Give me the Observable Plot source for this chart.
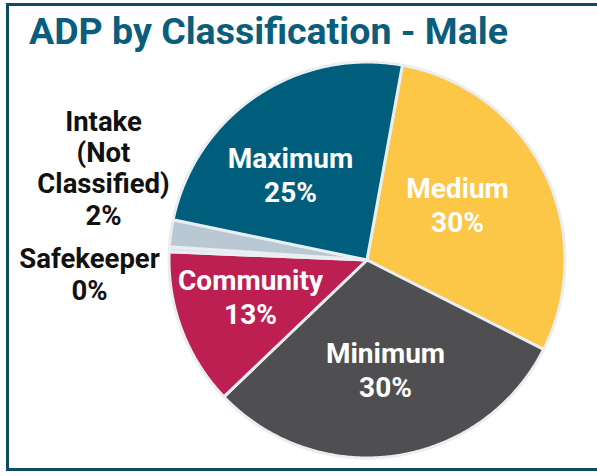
<!DOCTYPE html>
<html><head><meta charset="utf-8">
<script src="https://cdn.jsdelivr.net/npm/d3@7"></script>
<script src="https://cdn.jsdelivr.net/npm/@observablehq/plot@0.6"></script>
<style>
html,body{margin:0;padding:0;background:#fff;}
#wrap{position:relative;width:597px;height:476px;overflow:hidden;font-family:Roboto,"Noto Sans",sans-serif;}
#frame{position:absolute;left:6px;top:3px;width:640px;height:468px;border:3.5px solid #0d4b60;box-sizing:border-box;}
#title{position:absolute;left:29px;top:13.4px;font-weight:700;font-size:37.5px;line-height:1;color:#0a5d7b;white-space:nowrap;}
#chart{position:absolute;left:0;top:0;}
</style></head>
<body>
<div id="wrap">
  <div id="frame"></div>
  <div id="chart"></div>
  <div id="title">ADP by Classification - Male</div>
</div>
<script>
// ---- data (clockwise from the first slice) ----
const categories = ["Medium", "Minimum", "Community", "Safekeeper", "Intake (Not Classified)", "Maximum"];
const labelNames = ["Medium", "Minimum", "Community", "Safekeeper", "Intake\n(Not\nClassified)", "Maximum"];
const shares = [29.6, 30.4, 12.8, 0.4, 2.2, 24.6];
const percentLabels = ["30%", "30%", "13%", "0%", "2%", "25%"];

// ---- styles / layout ----
const sliceColors = ["#fcc647", "#4f4f51", "#bd1f53", "#dde4ea", "#b9c8d3", "#005e7d"];
const W = 597, H = 476, cx = 366.5, cy = 259.5, R = 198;
const startDeg = 10.3;
// label block centres in pixels (Excel "best fit" placement)
const labelPx = {
  "Medium": [457, 203.5],
  "Minimum": [385, 368.5],
  "Community": [250, 296],
  "Maximum": [290, 174]
};
const outsideLabelPx = {"Safekeeper": [89, 273.5], "Intake (Not Classified)": [103, 167]};

const total = d3.sum(shares);
let acc = startDeg;
const slices = categories.map((c, i) => {
  const a0 = acc, a1 = acc + shares[i] / total * 360;
  acc = a1;
  return {name: c, label: labelNames[i], pct: percentLabels[i], a0, a1};
});

const polys = [];
for (const s of slices) {
  polys.push({name: s.name, x: 0, y: 0});
  const n = Math.max(2, Math.ceil((s.a1 - s.a0) * 2));
  for (let k = 0; k <= n; k++) {
    const a = (s.a0 + (s.a1 - s.a0) * k / n) * Math.PI / 180;
    polys.push({name: s.name, x: Math.sin(a), y: Math.cos(a)});
  }
  polys.push({name: s.name, x: 0, y: 0});
}

const toData = ([px, py]) => ({x: (px - cx) / R, y: (cy - py) / R});
const inside = slices.filter(s => s.name in labelPx).map(s => ({...toData(labelPx[s.name]), text: s.label + "\n" + s.pct}));
const outside = slices.filter(s => s.name in outsideLabelPx).map(s => ({...toData(outsideLabelPx[s.name]), text: s.label + "\n" + s.pct}));

const chart = Plot.plot({
  width: W, height: H,
  margin: 0,
  x: {domain: [-cx / R, (W - cx) / R], range: [0, W], axis: null},
  y: {domain: [-(H - cy) / R, cy / R], range: [H, 0], axis: null},
  color: {domain: categories, range: sliceColors},
  style: {fontFamily: "Roboto, 'Noto Sans', sans-serif", background: "transparent", overflow: "visible"},
  marks: [
    Plot.line(polys, {x: "x", y: "y", z: "name", fill: "name", stroke: "#e9eef2", strokeWidth: 3, strokeLinejoin: "round", curve: "linear"}),
    Plot.text(inside, {x: "x", y: "y", text: "text", fill: "white", fontSize: 28, fontWeight: 700, lineHeight: 1.2}),
    Plot.text(outside, {x: "x", y: "y", text: "text", fill: "#111", fontSize: 27.5, fontWeight: 700, lineHeight: 1.14})
  ]
});
document.getElementById("chart").appendChild(chart);
</script>
</body></html>
